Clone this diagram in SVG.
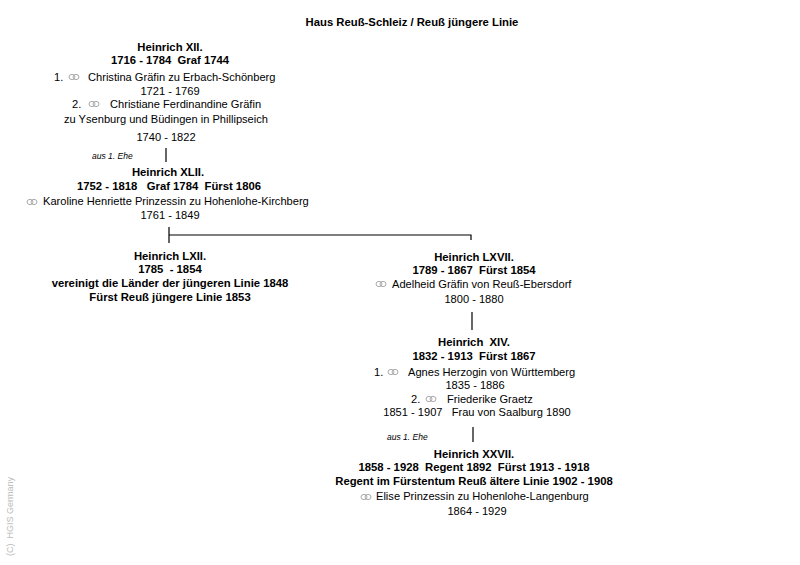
<svg xmlns="http://www.w3.org/2000/svg" width="800" height="565" viewBox="0 0 800 565">
<defs>
<style>
text{font-family:"Liberation Sans",Arial,sans-serif;font-size:11.1px;fill:#000}
.b{font-weight:bold;font-size:11.3px}
.c{text-anchor:middle}
.s{font-size:8.5px;font-style:italic}
.cp{font-size:9px;fill:#bbb}
.ln{stroke:#000;stroke-width:1.2;fill:none}
.r{stroke:#aaa;stroke-width:1;fill:none}
</style>
<g id="rings"><ellipse class="r" cx="-2" cy="0" rx="3" ry="2.6"/><ellipse class="r" cx="2" cy="0" rx="3" ry="2.6"/></g>
</defs>
<rect width="800" height="565" fill="#fff"/>
<text class="b c" x="412" y="26">Haus Reuß-Schleiz / Reuß jüngere Linie</text>
<g id="connectors">
<path class="ln" d="M166 148V162"/>
<path class="ln" d="M169 227V243M169 235H471V240"/>
<path class="ln" d="M472 312V330"/>
<path class="ln" d="M473 427V442"/>
</g>
<g id="n1">
<text class="b c" x="170" y="51">Heinrich XII.</text>
<text class="b c" x="170" y="64" xml:space="preserve">1716 - 1784  Graf 1744</text>
<text x="54" y="81">1.</text>
<use href="#rings" x="74" y="77"/>
<text x="88" y="81">Christina Gräfin zu Erbach-Schönberg</text>
<text class="c" x="170" y="95">1721 - 1769</text>
<text x="72" y="108">2.</text>
<use href="#rings" x="94" y="104"/>
<text x="110" y="108">Christiane Ferdinandine Gräfin</text>
<text class="c" x="166" y="123">zu Ysenburg und Büdingen in Phillipseich</text>
<text class="c" x="166" y="141">1740 - 1822</text>
<text class="s" x="92" y="159">aus 1. Ehe</text>
</g>
<g id="n2">
<text class="b c" x="168" y="176">Heinrich XLII.</text>
<text class="b c" x="169" y="190" xml:space="preserve">1752 - 1818   Graf 1784  Fürst 1806</text>
<use href="#rings" x="32" y="202"/>
<text x="43" y="205">Karoline Henriette Prinzessin zu Hohenlohe-Kirchberg</text>
<text class="c" x="170" y="219">1761 - 1849</text>
</g>
<g id="n3">
<text class="b c" x="170" y="260">Heinrich LXII.</text>
<text class="b c" x="170" y="273" xml:space="preserve">1785  - 1854</text>
<text class="b c" x="170" y="287">vereinigt die Länder der jüngeren Linie 1848</text>
<text class="b c" x="170" y="301">Fürst Reuß jüngere Linie 1853</text>
</g>
<g id="n4">
<text class="b c" x="474" y="261">Heinrich LXVII.</text>
<text class="b c" x="474" y="274" xml:space="preserve">1789 - 1867  Fürst 1854</text>
<use href="#rings" x="381" y="284"/>
<text x="392" y="288">Adelheid Gräfin von Reuß-Ebersdorf</text>
<text class="c" x="474" y="303">1800 - 1880</text>
</g>
<g id="n5">
<text class="b c" x="474" y="346" xml:space="preserve">Heinrich  XIV.</text>
<text class="b c" x="474" y="360" xml:space="preserve">1832 - 1913  Fürst 1867</text>
<text x="374" y="376">1.</text>
<use href="#rings" x="393" y="372"/>
<text x="408" y="376">Agnes Herzogin von Württemberg</text>
<text class="c" x="475" y="389">1835 - 1886</text>
<text x="411" y="403">2.</text>
<use href="#rings" x="431" y="399"/>
<text x="447" y="403">Friederike Graetz</text>
<text class="c" x="477" y="416" xml:space="preserve">1851 - 1907   Frau von Saalburg 1890</text>
<text class="s" x="387" y="440">aus 1. Ehe</text>
</g>
<g id="n6">
<text class="b c" x="474" y="458">Heinrich XXVII.</text>
<text class="b c" x="474" y="471" xml:space="preserve">1858 - 1928  Regent 1892  Fürst 1913 - 1918</text>
<text class="b c" x="474" y="485">Regent im Fürstentum Reuß ältere Linie 1902 - 1908</text>
<use href="#rings" x="366" y="497"/>
<text x="376" y="500">Elise Prinzessin zu Hohenlohe-Langenburg</text>
<text class="c" x="477" y="515">1864 - 1929</text>
</g>
<text class="cp" transform="translate(13,556) rotate(-90)" xml:space="preserve">(C)  HGIS Germany</text>
</svg>
